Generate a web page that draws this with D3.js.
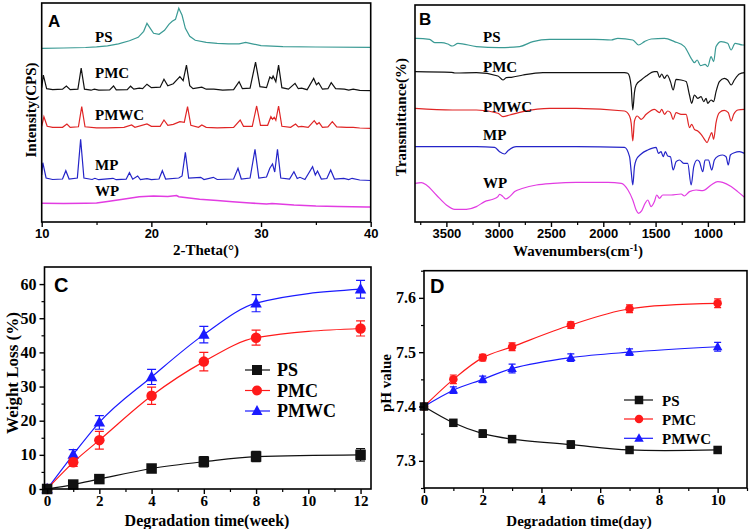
<!DOCTYPE html>
<html>
<head>
<meta charset="utf-8">
<script src="https://cdn.jsdelivr.net/npm/d3@7"></script>
<style>
  body { margin: 0; background: #fff; }
  svg text { fill: #000; }
  .serif { font-family: "Liberation Serif", "Times New Roman", serif; font-weight: bold; }
  .sans { font-family: "Liberation Sans", Arial, sans-serif; font-weight: bold; }
</style>
</head>
<body>
<script>
// ---------- data ----------
// A: XRD patterns, [2-theta, intensity above own baseline (a.u.)]
const xrdNames = ["PS", "PMC", "PMWC", "MP", "WP"];
const xrdOffsets = [173.7, 131.3, 93.7, 42, 15];
const xrdPS = [[10,0],[12,0.3],[14,0.8],[15,1.5],[16,2.5],[17,4.5],[18,7.5],[18.8,11],[19.3,17],[19.6,25],[19.9,20],[20.2,15],[20.7,14],[21.2,18],[21.6,24],[21.9,27],[22.2,29],[22.5,40],[22.8,33],[23.1,20],[23.5,12],[24,8],[25,6],[26,5],[27,4.5],[28,4.5],[28.6,6],[29.2,4.5],[30,2.7],[32,1.7],[35,1.3],[40,1]];
const xrdPMC = [[10,3],[10.15,15.5],[10.45,2],[11,1],[11.9,1.5],[12.25,4.7],[12.6,1],[13.3,1.5],[13.6,22.5],[13.9,1.5],[14.5,0.5],[14.8,1.5],[15.2,0.5],[16.2,0.8],[16.55,4.7],[16.8,0.8],[17.8,1],[18.1,4.5],[18.4,1.5],[18.9,2.5],[19.2,2],[19.6,6.5],[20,3],[20.8,3.5],[21.15,11.5],[21.5,5],[22,7],[22.6,14],[22.9,10],[23.2,25.5],[23.5,5],[23.8,2],[24.6,3.5],[25,1.5],[25.7,1.5],[26.5,0.5],[27.5,1],[28,9],[28.3,2],[29,2.5],[29.5,28.5],[29.9,4],[30.5,3],[30.8,13.7],[31,12],[31.1,14.7],[31.35,9],[31.6,25.5],[31.9,3],[32.5,1.5],[33.1,7.3],[33.4,2],[33.7,2.5],[34.2,1],[34.8,12.3],[35.05,6],[35.25,8],[35.6,1.5],[36.1,2],[36.4,8],[36.8,2],[37.6,1.5],[38,0.5],[38.4,1.5],[39,0.3],[40,0]];
const xrdPMWC = [[10,2],[10.2,11.6],[10.5,2],[11,1],[11.9,1],[12.3,4.3],[12.6,1],[13.35,1.5],[13.65,21.6],[13.95,1.5],[15,0.5],[16,0.5],[17.5,1],[18.2,3.3],[18.5,1],[19.6,4.3],[20,2],[20.8,2],[21.15,8.3],[21.5,3],[22,4],[22.6,6.7],[23,6],[23.3,21.6],[23.6,3],[24.3,1],[24.6,3.3],[25,1],[26,0.5],[27.5,1],[28.1,8.3],[28.4,2],[29.2,2],[29.6,22.3],[29.95,3],[30.6,3],[30.9,11.6],[31.05,9],[31.2,11],[31.35,8],[31.6,22.3],[31.9,2],[32.7,1],[33.15,4.3],[33.4,1.5],[33.7,2],[34.3,1],[34.85,7.7],[35.1,4],[35.3,5.7],[35.6,1],[36.1,1.5],[36.5,6.7],[36.9,1.5],[37.8,1],[38.4,1],[39,0.3],[40,0]];
const xrdMP = [[10,5],[10.1,17.3],[10.4,2],[11,0.5],[11.9,1],[12.2,9.3],[12.5,1],[13.25,2],[13.55,40.7],[13.85,2],[14.6,0.5],[14.85,1.7],[15.2,0.3],[16.5,1.7],[16.8,0.3],[17.7,0.8],[18,7.3],[18.3,0.8],[18.75,4],[19,0.5],[19.6,1.3],[20,0.3],[20.7,1],[21,9.3],[21.3,1],[22.5,2],[22.8,4],[23.1,27.7],[23.4,2],[24.5,2.7],[24.8,0.5],[25.65,2.7],[26,0.5],[27.5,1],[27.9,11.7],[28.2,1],[29,2],[29.45,30.7],[29.8,2],[30.5,3],[30.8,11.7],[31.05,16],[31.25,8],[31.5,30.7],[31.8,2],[32.6,1],[33,8.3],[33.3,1.5],[33.55,2.7],[34,0.5],[34.7,13.3],[34.95,5],[35.15,9],[35.5,1],[36,1.5],[36.35,10],[36.7,1],[37.55,1.7],[38,0.5],[38.3,1.7],[39,0],[40,-0.5]];
const xrdWP = [[10,3.7],[12,3.5],[14,3.8],[15,4],[16,5.5],[17.4,7.7],[18.9,10.3],[20.2,11],[21.5,10.5],[22.3,11.5],[22.5,10.3],[24.4,7.7],[26,6.5],[27.4,5.3],[29,4],[30.5,3],[31,3.5],[33,2],[35,1],[37,0.5],[39.6,0],[40,0]];

// B: FTIR spectra, [wavenumber, transmittance relative to own level (a.u.)]
const irOffsets = [182.7, 149.7, 113.7, 75.3, 39.7];
const irPS = [[3800,1],[3787,1],[3660,0],[3612,-3.3],[3548,-3.3],[3487,-4.7],[3443,-6.7],[3389,-4],[3213,-7.3],[2991,-8.3],[2800,-7.3],[2673,-2.3],[2514,0],[2323,0],[2084,0],[1924,-0.7],[1861,1],[1718,-0.7],[1663,-5.7],[1606,-2.3],[1542,0.3],[1415,1],[1320,-2.3],[1224,-7.3],[1160,-19],[1129,-23.3],[1103,-20.7],[1071,-26.3],[1027,-25],[1002,-27.3],[969,-17.3],[945,-22.3],[922,-7.3],[874,-2.3],[811,-4],[778,-10.7],[740,-4],[667,-5.7],[650,-5.7]];
const irPMC = [[3800,0.7],[3450,0],[3420,-0.7],[3213,-0.3],[3007,-3.7],[2959,-7.7],[2927,-5.3],[2879,-5],[2768,-2.7],[2577,-0.3],[2258,-0.3],[1797,-0.3],[1766,-1],[1749,-4.3],[1733,-15],[1718,-37.7],[1702,-20],[1686,-12.7],[1638,-7.7],[1590,-3.7],[1511,0.7],[1485,0.7],[1463,-5],[1441,-1.7],[1415,-6],[1390,-2.7],[1358,-9.3],[1332,-17.7],[1304,-7],[1256,-7.7],[1208,-9.3],[1176,-22.7],[1155,-31],[1129,-22.7],[1097,-26],[1065,-24.3],[1040,-29.3],[1017,-26],[1002,-31],[969,-27.7],[945,-29.3],[922,-19.3],[890,-9.3],[843,-6],[811,-7.7],[778,-12.7],[747,-7.7],[699,-1.7],[650,-0.3]];
const irPMWC = [[3800,0],[3443,-1.7],[3213,-1.7],[3007,-5],[2959,-8.3],[2895,-6.7],[2768,-3.3],[2514,0],[2258,0],[1797,-2.7],[1749,-7.7],[1733,-15],[1718,-32.7],[1702,-12.7],[1676,-7.7],[1638,-11],[1590,-6],[1511,-1],[1463,-4.3],[1441,-1],[1415,-6],[1384,-2.7],[1358,-4.3],[1332,-11],[1304,-4.3],[1256,-6],[1208,-6],[1176,-19.3],[1155,-16],[1129,-21],[1097,-22.7],[1065,-26],[1033,-31],[1008,-34.3],[986,-29.3],[963,-24.3],[945,-31],[922,-14.3],[890,-4.3],[843,-2],[805,-4.3],[778,-12.7],[753,-6],[715,-1.7],[650,-1]];
const irMP = [[3800,0],[3213,0],[3039,-0.7],[2991,-5],[2943,-7.3],[2911,-4],[2863,-0.7],[2832,0],[2258,0],[1797,-0.7],[1749,-10],[1733,-25],[1718,-38.3],[1702,-20],[1686,-13.3],[1638,-7.3],[1575,-3.3],[1495,-0.7],[1473,-6.7],[1447,-5],[1428,-10],[1406,-5],[1384,-9.3],[1358,-10],[1332,-23.3],[1304,-15],[1272,-13.3],[1231,-16.7],[1193,-16.7],[1160,-38.3],[1135,-20],[1103,-13.3],[1081,-15],[1049,-25],[1027,-13.3],[995,-13.3],[963,-23.3],[938,-13.3],[900,-9.3],[859,-8.3],[826,-10],[805,-18.3],[785,-8.3],[747,-6],[699,-5],[650,-6.7]];
const irWP = [[3800,-1],[3739,-0.3],[3691,-2.7],[3596,-12.7],[3500,-22.7],[3420,-27],[3309,-27],[3213,-24.3],[3134,-19.3],[3055,-17],[3007,-14.3],[2991,-12],[2959,-14.3],[2933,-16.7],[2895,-14.3],[2847,-9.3],[2768,-6],[2640,-2.7],[2481,-1],[2258,0],[1956,0],[1828,-1],[1764,-7.7],[1718,-17.7],[1686,-27.7],[1663,-31],[1632,-28.3],[1600,-21],[1575,-17.7],[1543,-24.3],[1511,-19.3],[1489,-12.7],[1463,-16],[1431,-12.7],[1352,-12.7],[1256,-11.7],[1224,-13.7],[1176,-9.3],[1113,-7.7],[1049,-8.3],[969,-2.7],[906,0.7],[859,0],[778,-4.3],[715,-9.3],[650,-15]];

// C: weight loss (%) vs week
const weeks = [0, 1, 2, 4, 6, 8, 12];
const lossPS = [0, 1.3, 2.9, 6.0, 8.0, 9.5, 10.0];
const lossPSErr = [0.4, 0.6, 0.8, 1.0, 1.5, 1.5, 1.8];
const lossPMC = [0, 7.8, 14.3, 27.3, 37.3, 44.3, 47.0];
const lossPMCErr = [0, 1.2, 2.6, 2.5, 2.7, 2.2, 2.2];
const lossPMWC = [0, 10.1, 19.5, 32.8, 45.2, 54.4, 58.5];
const lossPMWCErr = [0, 1.4, 2.0, 2.2, 2.4, 2.5, 2.6];

// D: pH vs day
const days = [0, 1, 2, 3, 5, 7, 10];
const phPS = [7.40, 7.37, 7.35, 7.34, 7.33, 7.32, 7.32];
const phPSErr = [0, 0.006, 0.007, 0.005, 0.007, 0.005, 0.005];
const phPMC = [7.40, 7.45, 7.49, 7.51, 7.55, 7.58, 7.59];
const phPMCErr = [0, 0.008, 0.006, 0.007, 0.006, 0.007, 0.008];
const phPMWC = [7.40, 7.43, 7.45, 7.47, 7.49, 7.50, 7.51];
const phPMWCErr = [0, 0.006, 0.006, 0.008, 0.007, 0.006, 0.008];

const specColors = ["#3a9a94", "#111111", "#e02525", "#2424c8", "#e23ce2"];
const markColors = ["#111111", "#ff1a1a", "#1a1aff"];
const seriesNames = ["PS", "PMC", "PMWC"];

// ---------- svg ----------
const svg = d3.select("body").append("svg")
    .attr("width", 752).attr("height", 529)
    .style("background", "#fff");

// helper: axis with major labelled ticks and minor ticks
function bottomAxis(g, scale, y, major, minor, fmt, cls, size, pad) {
    const a = g.append("g").attr("transform", `translate(0,${y})`)
        .call(d3.axisBottom(scale).tickValues(major).tickSize(5).tickPadding(pad).tickFormat(fmt));
    a.select(".domain").remove();
    a.selectAll("line").attr("stroke-width", 1.4);
    a.selectAll("text").attr("class", cls).style("font-size", size + "px");
    const m = g.append("g").attr("transform", `translate(0,${y})`)
        .call(d3.axisBottom(scale).tickValues(minor).tickSize(3).tickFormat(""));
    m.select(".domain").remove();
    m.selectAll("line").attr("stroke-width", 1.2);
}
function leftAxis(g, scale, x, major, minor, fmt, cls, size) {
    const a = g.append("g").attr("transform", `translate(${x},0)`)
        .call(d3.axisLeft(scale).tickValues(major).tickSize(5).tickPadding(3).tickFormat(fmt));
    a.select(".domain").remove();
    a.selectAll("line").attr("stroke-width", 1.4);
    a.selectAll("text").attr("class", cls).style("font-size", size + "px");
    const m = g.append("g").attr("transform", `translate(${x},0)`)
        .call(d3.axisLeft(scale).tickValues(minor).tickSize(3).tickFormat(""));
    m.select(".domain").remove();
    m.selectAll("line").attr("stroke-width", 1.2);
}
function frame(g, x0, y0, x1, y1) {
    g.append("rect").attr("x", x0).attr("y", y0)
        .attr("width", x1 - x0).attr("height", y1 - y0)
        .attr("fill", "none").attr("stroke", "#000").attr("stroke-width", 1.6);
}

// ---------- A: XRD ----------
const gA = svg.append("g");
const aX = d3.scaleLinear().domain([10, 40]).range([41.7, 370.7]);
const aY = d3.scaleLinear().domain([0, 219]).range([222, 3]);
const xrdData = [xrdPS, xrdPMC, xrdPMWC, xrdMP, xrdWP];
xrdData.forEach((pts, i) => {
    gA.append("path")
        .attr("d", d3.line().x(d => aX(d[0])).y(d => aY(d[1] + xrdOffsets[i]))(pts))
        .attr("fill", "none").attr("stroke", specColors[i])
        .attr("stroke-width", i === 4 ? 1.6 : 1.2);
});
const aLabelY = [36.7, 73.3, 115, 165, 190.7];
xrdNames.forEach((n, i) => {
    gA.append("text").attr("class", "serif").attr("x", 95).attr("y", aLabelY[i] + 5)
        .style("font-size", "15px").text(n);
});
bottomAxis(gA, aX, 222, [10, 20, 30, 40], [15, 25, 35], d3.format("d"), "sans", 13, 2);
frame(gA, 41.7, 3, 370.7, 222);
gA.append("text").attr("class", "sans").attr("x", 48).attr("y", 27).style("font-size", "17px").text("A");
gA.append("text").attr("class", "serif").attr("x", 206).attr("y", 255)
    .attr("text-anchor", "middle").style("font-size", "15px").text("2-Theta(°)");
gA.append("text").attr("class", "serif").attr("transform", "translate(36,110) rotate(-90)")
    .attr("text-anchor", "middle").style("font-size", "15px").text("Intensity(CPS)");

// ---------- B: FTIR ----------
const gB = svg.append("g");
const bX = d3.scaleLinear().domain([3800, 650]).range([415, 744.5]);
const bY = d3.scaleLinear().domain([0, 217]).range([222, 5]);
const irData = [irPS, irPMC, irPMWC, irMP, irWP];
irData.forEach((pts, i) => {
    gB.append("path")
        .attr("d", d3.line().x(d => bX(d[0])).y(d => bY(d[1] + irOffsets[i])).curve(d3.curveMonotoneX)(pts))
        .attr("fill", "none").attr("stroke", specColors[i]).attr("stroke-width", 1.2);
});
const bLabelY = [36.7, 67, 106.7, 135, 182.7];
xrdNames.forEach((n, i) => {
    gB.append("text").attr("class", "serif").attr("x", 483).attr("y", bLabelY[i] + 5)
        .style("font-size", "15px").text(n);
});
bottomAxis(gB, bX, 222, [3500, 3000, 2500, 2000, 1500, 1000], [3750, 3250, 2750, 2250, 1750, 1250, 750],
    d3.format("d"), "sans", 13, 2);
frame(gB, 415, 5, 744.5, 222);
gB.append("text").attr("class", "sans").attr("x", 419).attr("y", 25).style("font-size", "17px").text("B");
const bt = gB.append("text").attr("class", "serif").attr("x", 578).attr("y", 256)
    .attr("text-anchor", "middle").style("font-size", "15px");
bt.append("tspan").text("Wavenumbers(cm");
bt.append("tspan").attr("dy", -5).style("font-size", "10px").text("-1");
bt.append("tspan").attr("dy", 5).text(")");
gB.append("text").attr("class", "serif").attr("transform", "translate(406,117) rotate(-90)")
    .attr("text-anchor", "middle").style("font-size", "15px").text("Transmittance(%)");

// ---------- markers ----------
function marker(g, kind, x, y, color, s) {
    if (kind === 0) {
        g.append("rect").attr("x", x - s / 2).attr("y", y - s / 2).attr("width", s).attr("height", s).attr("fill", color);
    } else if (kind === 1) {
        g.append("circle").attr("cx", x).attr("cy", y).attr("r", s / 2).attr("fill", color);
    } else {
        const h = s * 0.95;
        g.append("path").attr("d", `M${x},${y - h * 0.62}L${x + s / 2 + 0.5},${y + h * 0.42}L${x - s / 2 - 0.5},${y + h * 0.42}Z`).attr("fill", color);
    }
}
function series(g, xs, ys, errs, sx, sy, color, kind, size, cap, curve) {
    const pts = xs.map((x, i) => [x, ys[i]]);
    g.append("path").attr("d", d3.line().x(d => sx(d[0])).y(d => sy(d[1])).curve(curve)(pts))
        .attr("fill", "none").attr("stroke", color).attr("stroke-width", 1.2);
    xs.forEach((x, i) => {
        if (errs[i] > 0) {
            const px = sx(x), y0 = sy(ys[i] - errs[i]), y1 = sy(ys[i] + errs[i]);
            g.append("path").attr("d", `M${px},${y0}V${y1}M${px - cap},${y0}H${px + cap}M${px - cap},${y1}H${px + cap}`)
                .attr("stroke", color).attr("stroke-width", 1.2).attr("fill", "none");
        }
        marker(g, kind, sx(x), sy(ys[i]), color, size);
    });
}

// ---------- C: weight loss ----------
const gC = svg.append("g");
const cX = d3.scaleLinear().domain([-0.1, 12.4]).range([44.5, 371]);
const cY = d3.scaleLinear().domain([0, 65]).range([489, 267]);
const lossVals = [lossPS, lossPMC, lossPMWC];
const lossErrs = [lossPSErr, lossPMCErr, lossPMWCErr];
[2, 1, 0].forEach(i => series(gC, weeks, lossVals[i], lossErrs[i], cX, cY, markColors[i], i, 10.5, 4.5, d3.curveMonotoneX));
bottomAxis(gC, cX, 489, [0, 2, 4, 6, 8, 10, 12], [1, 3, 5, 7, 9, 11], d3.format("d"), "serif", 15, 1);
leftAxis(gC, cY, 44.5, [0, 10, 20, 30, 40, 50, 60], [5, 15, 25, 35, 45, 55], d3.format("d"), "serif", 16);
frame(gC, 44.5, 267, 371, 489);
gC.append("text").attr("class", "sans").attr("x", 54).attr("y", 292).style("font-size", "20px").text("C");
gC.append("text").attr("class", "serif").attr("x", 207).attr("y", 526)
    .attr("text-anchor", "middle").style("font-size", "16px").text("Degradation time(week)");
gC.append("text").attr("class", "serif").attr("transform", "translate(18,373) rotate(-90)")
    .attr("text-anchor", "middle").style("font-size", "17px").text("Weight Loss (%)");
const cLegY = [370, 390.5, 411];
seriesNames.forEach((n, i) => {
    gC.append("line").attr("x1", 245).attr("x2", 270).attr("y1", cLegY[i]).attr("y2", cLegY[i])
        .attr("stroke", markColors[i]).attr("stroke-width", 1.2);
    marker(gC, i, 257, cLegY[i], markColors[i], 10);
    gC.append("text").attr("class", "serif").attr("x", 277).attr("y", cLegY[i] + 6)
        .style("font-size", "18px").text(n);
});

// ---------- D: pH ----------
const gD = svg.append("g");
const dX = d3.scaleLinear().domain([0, 11]).range([424, 747]);
const dY = d3.scaleLinear().domain([7.25, 7.65]).range([488, 270.7]);
const phVals = [phPS, phPMC, phPMWC];
const phErrs = [phPSErr, phPMCErr, phPMWCErr];
[2, 1, 0].forEach(i => series(gD, days, phVals[i], phErrs[i], dX, dY, markColors[i], i, 8.5, 3.5, d3.curveCatmullRom.alpha(0.5)));
bottomAxis(gD, dX, 488, [0, 2, 4, 6, 8, 10], [1, 3, 5, 7, 9, 11], d3.format("d"), "serif", 15, 1);
leftAxis(gD, dY, 424, [7.3, 7.4, 7.5, 7.6], [7.25, 7.35, 7.45, 7.55, 7.65], d3.format(".1f"), "serif", 16);
frame(gD, 424, 270.7, 747, 488);
gD.append("text").attr("class", "sans").attr("x", 430).attr("y", 293).style("font-size", "20px").text("D");
gD.append("text").attr("class", "serif").attr("x", 579).attr("y", 526)
    .attr("text-anchor", "middle").style("font-size", "15px").text("Degradation time(day)");
gD.append("text").attr("class", "serif").attr("transform", "translate(391,383) rotate(-90)")
    .attr("text-anchor", "middle").style("font-size", "15px").text("pH value");
const dLegY = [400, 419, 438.3];
seriesNames.forEach((n, i) => {
    gD.append("line").attr("x1", 624).attr("x2", 653).attr("y1", dLegY[i]).attr("y2", dLegY[i])
        .attr("stroke", markColors[i]).attr("stroke-width", 1.2);
    marker(gD, i, 639, dLegY[i], markColors[i], 8.5);
    gD.append("text").attr("class", "serif").attr("x", 662).attr("y", dLegY[i] + 5.5)
        .style("font-size", "15px").text(n);
});
</script>
</body>
</html>
